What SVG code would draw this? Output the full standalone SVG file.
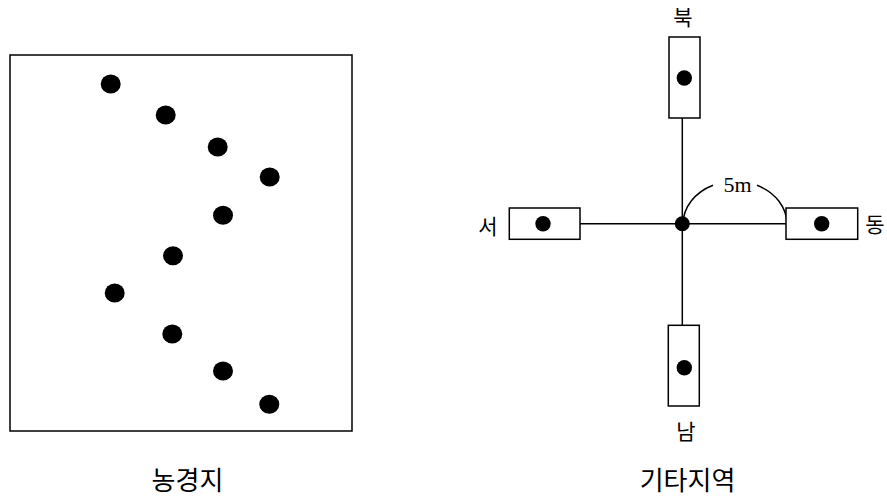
<svg xmlns="http://www.w3.org/2000/svg" width="887" height="501" viewBox="0 0 887 501">
<style>
.box{fill:#fff;stroke:#000;stroke-width:1.5}
.ln{fill:none;stroke:#000;stroke-width:1.5}
.dot{fill:#000}
.kr{font-family:"Noto Sans CJK KR","Noto Sans",sans-serif;fill:#000;text-anchor:middle}
.lat{font-family:"Liberation Serif",serif;fill:#000;text-anchor:middle}
</style>
<rect width="887" height="501" fill="#fff"/>
<g id="farmland">
<rect class="box" x="10" y="55" width="342" height="376"/>
<ellipse class="dot" cx="110.7" cy="84" rx="10" ry="9.5"/>
<ellipse class="dot" cx="165.7" cy="115" rx="10" ry="9.5"/>
<ellipse class="dot" cx="217.7" cy="147" rx="10" ry="9.5"/>
<ellipse class="dot" cx="269.7" cy="177" rx="10" ry="9.5"/>
<ellipse class="dot" cx="223" cy="215.3" rx="10" ry="9.5"/>
<ellipse class="dot" cx="173" cy="255.7" rx="10" ry="9.5"/>
<ellipse class="dot" cx="114.7" cy="293" rx="10" ry="9.5"/>
<ellipse class="dot" cx="172.3" cy="334" rx="10" ry="9.5"/>
<ellipse class="dot" cx="223" cy="371" rx="10" ry="9.5"/>
<ellipse class="dot" cx="269.3" cy="404.3" rx="10" ry="9.5"/>
<text class="kr" x="187.5" y="490" font-size="26">농경지</text>
</g>
<g id="connectors">
<line class="ln" x1="682.3" y1="118" x2="682.3" y2="325.5"/>
<line class="ln" x1="580" y1="223.7" x2="786" y2="223.7"/>
<path class="ln" d="M683,224 A52,43 0 0 1 713,185.3"/>
<path class="ln" d="M757,185.3 A52,43 0 0 1 787,224"/>
</g>
<g id="center">
<circle class="dot" cx="682.3" cy="223.7" r="7.5"/>
<text class="lat" x="737.5" y="192" font-size="22">5m</text>
</g>
<g id="north">
<rect class="box" x="669" y="37" width="31" height="81"/>
<circle class="dot" cx="684.3" cy="78" r="7.7"/>
<text class="kr" x="683" y="25" font-size="21">북</text>
</g>
<g id="west">
<rect class="box" x="509.3" y="208" width="70.7" height="31.3"/>
<circle class="dot" cx="543" cy="223.7" r="7.7"/>
<text class="kr" x="488" y="234" font-size="21">서</text>
</g>
<g id="east">
<rect class="box" x="786" y="208" width="71.7" height="31.3"/>
<circle class="dot" cx="821.7" cy="223.7" r="7.7"/>
<text class="kr" x="875" y="232" font-size="21">동</text>
</g>
<g id="south">
<rect class="box" x="668.3" y="325.3" width="31" height="80.7"/>
<circle class="dot" cx="684.3" cy="367.7" r="7.7"/>
<text class="kr" x="686" y="439" font-size="21">남</text>
</g>
<text class="kr" x="687.5" y="490" font-size="26">기타지역</text>
</svg>
